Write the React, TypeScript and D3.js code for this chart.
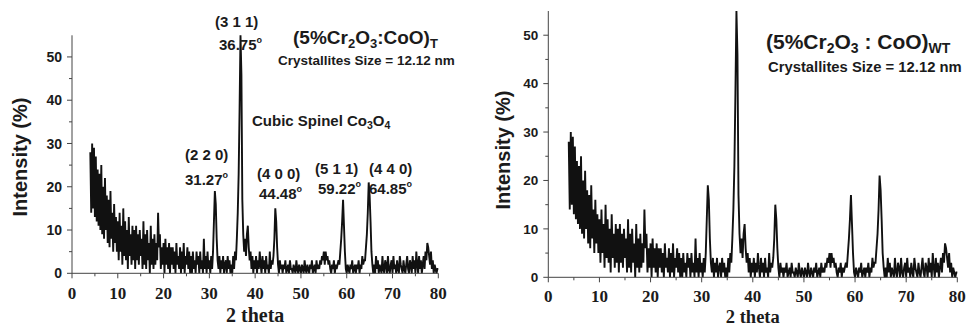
import React from "react";
import * as d3 from "d3";

// XRD scan: 2θ from 4° to 80°, step 0.2°
const angleStart = 4;
const angleStep = 0.2;
const intensity: number[] = [
  28, 14, 30, 15, 29, 13, 27, 12, 24, 11,
  23, 10, 25, 9, 20, 8, 22, 10, 18, 7,
  17, 6, 19, 8, 14, 5, 16, 7, 13, 5,
  12, 3, 14, 5, 11, 2, 15, 4, 12, 3,
  10, 1, 13, 4, 9, 2, 11, 3, 10, 1,
  11, 3, 9, 2, 10, 4, 8, 1, 12, 2,
  9, 1, 10, 3, 7, 0, 11, 2, 8, 1,
  9, 2, 7, 3, 14, 6, 9, 1, 6, 2,
  7, 0, 8, 2, 6, 1, 7, 0, 6, 2,
  6, 1, 5, 0, 7, 2, 4, 1, 6, 0,
  5, 1, 7, 0, 4, 2, 6, 1, 5, 0,
  4, 0, 5, 1, 3, 0, 5, 2, 4, 0,
  5, 1, 3, 0, 8, 1, 4, 0, 5, 1,
  3, 0, 4, 1, 5, 12, 19, 16, 8, 3,
  1, 4, 0, 3, 1, 4, 0, 2, 3, 0,
  4, 1, 3, 0, 2, 0, 4, 1, 5, 3,
  8, 14, 23, 38, 55, 46, 17, 9, 5, 8,
  4, 9, 11, 6, 3, 5, 1, 4, 0, 3,
  1, 4, 0, 3, 1, 5, 2, 0, 4, 1,
  3, 0, 4, 1, 2, 0, 5, 1, 3, 2,
  4, 8, 15, 12, 6, 2, 0, 3, 1, 2,
  0, 2, 1, 3, 0, 1, 2, 0, 3, 1,
  1, 0, 2, 1, 0, 3, 1, 0, 2, 1,
  0, 2, 1, 0, 3, 1, 0, 2, 1, 0,
  2, 1, 3, 0, 1, 2, 0, 3, 1, 2,
  1, 3, 2, 4, 3, 5, 2, 5, 3, 4,
  2, 3, 1, 0, 2, 1, 3, 0, 2, 1,
  2, 3, 2, 5, 8, 12, 17, 11, 5, 1,
  0, 2, 1, 0, 2, 1, 3, 0, 1, 2,
  0, 2, 1, 3, 0, 2, 1, 4, 2, 3,
  3, 6, 9, 14, 21, 18, 12, 5, 2, 0,
  2, 0, 4, 1, 3, 0, 2, 1, 0, 4,
  1, 0, 3, 2, 0, 4, 1, 0, 2, 3,
  0, 4, 1, 2, 0, 3, 1, 0, 4, 2,
  1, 0, 3, 1, 0, 2, 4, 1, 0, 3,
  2, 0, 4, 1, 3, 0, 5, 2, 0, 4,
  1, 3, 0, 2, 4, 1, 5, 3, 7, 6,
  4, 2, 5, 1, 3, 0, 2, 1, 0, 1,
  1,
];

const xMajorTicks = [0, 10, 20, 30, 40, 50, 60, 70, 80];
const xMinorTicks = [5, 15, 25, 35, 45, 55, 65, 75];
const yMajorTicks = [0, 10, 20, 30, 40, 50];
const yMinorTicks = [5, 15, 25, 35, 45];

const peakHkl = ["(3 1 1)", "(2 2 0)", "(4 0 0)", "(5 1 1)", "(4 4 0)"];
const peakAngles = ["36.75", "31.27", "44.48", "59.22", "64.85"];

const SANS = "'Liberation Sans', Arial, sans-serif";
const SERIF = "'Liberation Serif', 'Times New Roman', serif";
const INK = "#1b1b1b";

type PanelProps = {
  x0: number;
  x1: number;
  yBot: number;
  yTop: number;
  xLabelBase: number;
  yLabelEnd: number;
  yTickFont: number;
  xTitleBase: number;
  xTitleFont: number;
  yTitleX: number;
  yTitleY: number;
  children?: React.ReactNode;
};

function Panel(p: PanelProps) {
  const x = d3.scaleLinear().domain([0, 80]).range([p.x0, p.x1]);
  const y = d3.scaleLinear().domain([0, 55]).range([p.yBot, p.yTop]);
  const pts = intensity.map((v, i) => [angleStart + i * angleStep, v] as [number, number]);
  const line = d3
    .line<[number, number]>()
    .x((d) => x(d[0]))
    .y((d) => y(d[1]));
  return (
    <g>
      <path d={line(pts) || ""} fill="none" stroke="#111" strokeWidth={1.9} strokeLinejoin="miter" strokeMiterlimit={3} />
      {/* axes */}
      <line x1={p.x0} x2={p.x1} y1={p.yBot} y2={p.yBot} stroke="#444" strokeWidth={1} />
      <line x1={p.x0} x2={p.x0} y1={p.yBot} y2={y(55)} stroke="#444" strokeWidth={1} />
      {xMajorTicks.map((t) => (
        <line key={"xm" + t} x1={x(t)} x2={x(t)} y1={p.yBot} y2={p.yBot + 5} stroke="#444" />
      ))}
      {xMinorTicks.map((t) => (
        <line key={"xn" + t} x1={x(t)} x2={x(t)} y1={p.yBot} y2={p.yBot + 3} stroke="#444" />
      ))}
      {yMajorTicks.map((t) => (
        <line key={"ym" + t} x1={p.x0 - 5} x2={p.x0} y1={y(t)} y2={y(t)} stroke="#444" />
      ))}
      {yMinorTicks.map((t) => (
        <line key={"yn" + t} x1={p.x0 - 3} x2={p.x0} y1={y(t)} y2={y(t)} stroke="#444" />
      ))}
      {xMajorTicks.map((t) => (
        <text
          key={"xl" + t}
          x={x(t)}
          y={p.xLabelBase}
          textAnchor="middle"
          fontFamily={SERIF}
          fontWeight="bold"
          fontSize={17}
          fill={INK}
        >
          {t}
        </text>
      ))}
      {yMajorTicks.map((t) => (
        <text
          key={"yl" + t}
          x={p.yLabelEnd}
          y={y(t) + p.yTickFont * 0.36}
          textAnchor="end"
          fontFamily={SANS}
          fontWeight="bold"
          fontSize={p.yTickFont}
          fill={INK}
        >
          {t}
        </text>
      ))}
      <text
        x={(p.x0 + p.x1) / 2}
        y={p.xTitleBase}
        textAnchor="middle"
        fontFamily={SERIF}
        fontWeight="bold"
        fontSize={p.xTitleFont}
        fill={INK}
      >
        2 theta
      </text>
      <text
        transform={`translate(${p.yTitleX},${p.yTitleY}) rotate(-90)`}
        textAnchor="middle"
        fontFamily={SANS}
        fontWeight="bold"
        fontSize={20}
        fill={INK}
      >
        Intensity (%)
      </text>
      {p.children}
    </g>
  );
}

function Deg({ x, y, value, size }: { x: number; y: number; value: string; size: number }) {
  return (
    <text x={x} y={y} fontFamily={SANS} fontWeight="bold" fontSize={size} fill={INK}>
      {value}
      <tspan fontSize={size * 0.6} dy={-size * 0.45}>o</tspan>
    </text>
  );
}

export default function App() {
  // annotation layout for the left panel (hkl label position, angle label position)
  const leftLayout = [
    { hx: 215, hy: 27, ax: 219, ay: 50 },
    { hx: 185, hy: 160, ax: 185, ay: 185 },
    { hx: 257, hy: 179, ax: 259, ay: 199 },
    { hx: 315, hy: 174, ax: 318, ay: 194 },
    { hx: 369, hy: 174, ax: 369, ay: 194 },
  ];
  return (
    <svg width={969} height={326} style={{ display: "block", position: "absolute", left: 0, top: 0 }} viewBox="0 0 969 326">
      <rect width={969} height={326} fill="#fff" />
      <Panel
        x0={72}
        x1={438.3}
        yBot={273.3}
        yTop={35.3}
        xLabelBase={298.5}
        yLabelEnd={62}
        yTickFont={14}
        xTitleBase={321.5}
        xTitleFont={20}
        yTitleX={27}
        yTitleY={157}
      >
        {peakHkl.map((h, i) => (
          <text key={"h" + i} x={leftLayout[i].hx} y={leftLayout[i].hy} fontFamily={SANS} fontWeight="bold" fontSize={15} fill={INK}>
            {h}
          </text>
        ))}
        {peakAngles.map((a, i) => (
          <Deg key={"a" + i} x={leftLayout[i].ax} y={leftLayout[i].ay} value={a} size={15} />
        ))}
        <text x={293} y={44} fontFamily={SANS} fontWeight="bold" fontSize={19} fill={INK}>
          (5%Cr<tspan fontSize={13} dy={4}>2</tspan>
          <tspan dy={-4}>O</tspan>
          <tspan fontSize={13} dy={4}>3</tspan>
          <tspan dy={-4}>:CoO)</tspan>
          <tspan fontSize={13} dy={4}>T</tspan>
        </text>
        <text x={278} y={65} fontFamily={SANS} fontWeight="bold" fontSize={13.5} fill={INK}>
          Crystallites Size = 12.12 nm
        </text>
        <text x={252} y={126} fontFamily={SANS} fontWeight="bold" fontSize={15} fill={INK}>
          Cubic Spinel Co<tspan fontSize={10.5} dy={3}>3</tspan>
          <tspan dy={-3}>O</tspan>
          <tspan fontSize={10.5} dy={3}>4</tspan>
        </text>
      </Panel>
      <Panel
        x0={548.3}
        x1={957.3}
        yBot={277.3}
        yTop={11}
        xLabelBase={302}
        yLabelEnd={538.3}
        yTickFont={13.5}
        xTitleBase={322.5}
        xTitleFont={18.5}
        yTitleX={510}
        yTitleY={150}
      >
        <text x={766} y={49} fontFamily={SANS} fontWeight="bold" fontSize={21} fill={INK}>
          (5%Cr<tspan fontSize={14} dy={4}>2</tspan>
          <tspan dy={-4}>O</tspan>
          <tspan fontSize={14} dy={4}>3</tspan>
          <tspan dy={-4}> : CoO)</tspan>
          <tspan fontSize={14} dy={4}>WT</tspan>
        </text>
        <text x={768} y={72} fontFamily={SANS} fontWeight="bold" fontSize={14.8} fill={INK}>
          Crystallites Size = 12.12 nm
        </text>
      </Panel>
    </svg>
  );
}
